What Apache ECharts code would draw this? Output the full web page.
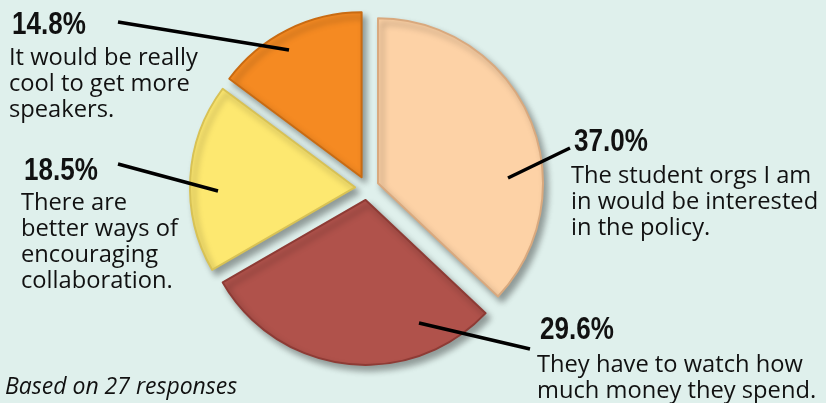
<!DOCTYPE html>
<html>
<head>
<meta charset="utf-8">
<style>
html, body { margin: 0; padding: 0; background: #dff0ec; }
#chart { width: 826px; height: 403px; }
</style>
<script src="https://cdn.jsdelivr.net/npm/echarts@6/dist/echarts.min.js"></script>
</head>
<body>
<div id="chart"></div>
<script>
// survey answers (27 responses)
var answers = [
    'The student orgs I am\nin would be interested\nin the policy.',
    'They have to watch how\nmuch money they spend.',
    'There are\nbetter ways of\nencouraging\ncollaboration.',
    'It would be really\ncool to get more\nspeakers.'
];
var counts = [10, 8, 5, 4];
var colors = ['#fdd2a6', '#b0524b', '#fde870', '#f58a22'];
var borders = ['#d9a97e', '#8e3b35', '#d8c255', '#c96b12'];

var total = counts.reduce(function (a, b) { return a + b; }, 0);

// where each answer's text block sits, and its leader line (inside slice -> text)
var blocks = [
    { x: 574, pctTop: 126, bodyTop: 163, line: [[508, 178], [570, 148]] },
    { x: 540, pctTop: 314, bodyTop: 352, line: [[419, 323], [530, 349]] },
    { x: 24, pctTop: 155, bodyTop: 190, line: [[218, 191], [118, 164]] },
    { x: 12, pctTop: 9, bodyTop: 45, line: [[289, 50], [118, 22]] }
];

var chart = echarts.init(document.getElementById('chart'));

var data = counts.map(function (v, i) {
    return {
        name: answers[i],
        value: v,
        selected: true,
        itemStyle: { color: colors[i], borderColor: borders[i] }
    };
});

var graphics = [];
counts.forEach(function (v, i) {
    var b = blocks[i];
    var pct = (v / total * 100).toFixed(1) + '%';
    graphics.push({
        type: 'polyline',
        z: 10,
        shape: { points: b.line },
        style: { stroke: '#000', lineWidth: 3.5, fill: null }
    });
    graphics.push({
        type: 'text',
        z: 10,
        x: b.x,
        y: b.pctTop,
        scaleX: 0.84,
        style: {
            text: pct,
            font: 'bold 31px "Liberation Sans", sans-serif',
            lineHeight: 32,
            fill: '#111',
            verticalAlign: 'top'
        }
    });
    graphics.push({
        type: 'text',
        z: 10,
        x: b.x - 3,
        y: b.bodyTop,
        style: {
            text: answers[i],
            font: '23.7px "Open Sans", sans-serif',
            lineHeight: 26,
            fill: '#111',
            verticalAlign: 'top'
        }
    });
});
graphics.push({
    type: 'text',
    x: 5,
    y: 374,
    style: {
        text: 'Based on ' + total + ' responses',
        font: 'italic 23px "Open Sans", sans-serif',
        lineHeight: 26,
        fill: '#111',
        verticalAlign: 'top'
    }
});

chart.setOption({
    backgroundColor: '#dff0ec',
    animation: false,
    graphic: graphics,
    series: [{
        type: 'pie',
        center: [367, 188],
        radius: 165,
        startAngle: 90,
        clockwise: true,
        selectedMode: 'multiple',
        selectedOffset: 12,
        emphasis: { disabled: true },
        label: { show: false },
        labelLine: { show: false },
        itemStyle: {
            borderWidth: 2,
            shadowBlur: 6,
            shadowColor: 'rgba(0,0,0,0.35)',
            shadowOffsetX: 4,
            shadowOffsetY: 5
        },
        data: data
    }]
});
</script>
</body>
</html>
